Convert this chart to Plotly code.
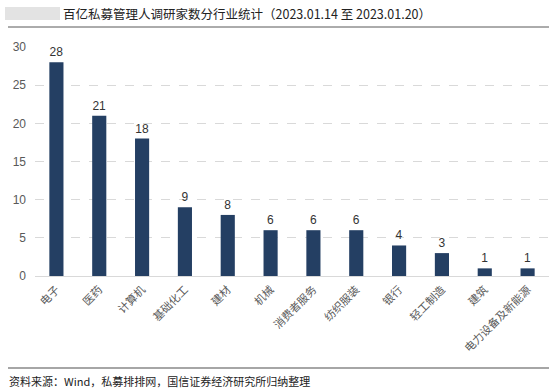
import plotly.graph_objects as go

categories = ["电子", "医药", "计算机", "基础化工", "建材", "机械", "消费者服务",
              "纺织服装", "银行", "轻工制造", "建筑", "电力设备及新能源"]
values = [28, 21, 18, 9, 8, 6, 6, 6, 4, 3, 1, 1]
y_ticks = [0, 5, 10, 15, 20, 25, 30]

title_text = "百亿私募管理人调研家数分行业统计（2023.01.14 至 2023.01.20）"
source_text = "资料来源：Wind，私募排排网，国信证券经济研究所归纳整理"

cjk = "Noto Sans CJK SC"
H = 229.0
W = 514.0

def py(pix):
    return (392 - pix - 116) / H

def px(pix):
    return (pix - 35) / W

fig = go.Figure()
fig.add_trace(go.Bar(
    x=categories, y=values,
    marker=dict(color="#243f63", line=dict(width=0)),
    text=values, textposition="outside",
    textfont=dict(family="Arial, Liberation Sans", size=12, color="#333333"),
    cliponaxis=False, hoverinfo="skip",
))

fig.update_layout(
    width=550, height=392,
    margin=dict(l=35, r=1, t=47, b=116, autoexpand=False),
    paper_bgcolor="white", plot_bgcolor="white",
    showlegend=False, bargap=0.67,
    xaxis=dict(
        tickangle=-45, tickfont=dict(family=cjk, size=11, color="#595959"),
        showline=True, linecolor="#d9d9d9", linewidth=1,
        showgrid=False, ticks="", ticklabelstandoff=2,
    ),
    yaxis=dict(
        range=[0, 30], tickvals=y_ticks,
        tickfont=dict(family="Arial, Liberation Sans", size=12, color="#595959"),
        showgrid=True, gridcolor="#d9d9d9", griddash="dash", gridwidth=1,
        zeroline=False, showline=False, ticks="", ticklabelstandoff=8,
    ),
    shapes=[
        dict(type="line", xref="paper", yref="paper", x0=px(8), x1=1.0,
             y0=py(27), y1=py(27), line=dict(color="#595959", width=1)),
        dict(type="line", xref="paper", yref="paper", x0=px(8), x1=1.0,
             y0=py(368), y1=py(368), line=dict(color="#a6a6a6", width=2)),
        dict(type="rect", xref="paper", yref="paper",
             x0=px(5), x1=px(60), y0=py(20), y1=py(7),
             fillcolor="#e3e3e3", line=dict(width=0)),
    ],
    annotations=[
        dict(text=title_text, xref="paper", yref="paper",
             x=px(61), y=py(13),
             xanchor="left", yanchor="middle", showarrow=False,
             font=dict(family=cjk, size=12.5, color="#222222")),
        dict(text=source_text, xref="paper", yref="paper",
             x=px(7), y=py(381),
             xanchor="left", yanchor="middle", showarrow=False,
             font=dict(family=cjk, size=11, color="#222222")),
    ],
)

fig.write_html("out.html", config={"displayModeBar": False},
               post_script="document.body.style.margin='0';")
